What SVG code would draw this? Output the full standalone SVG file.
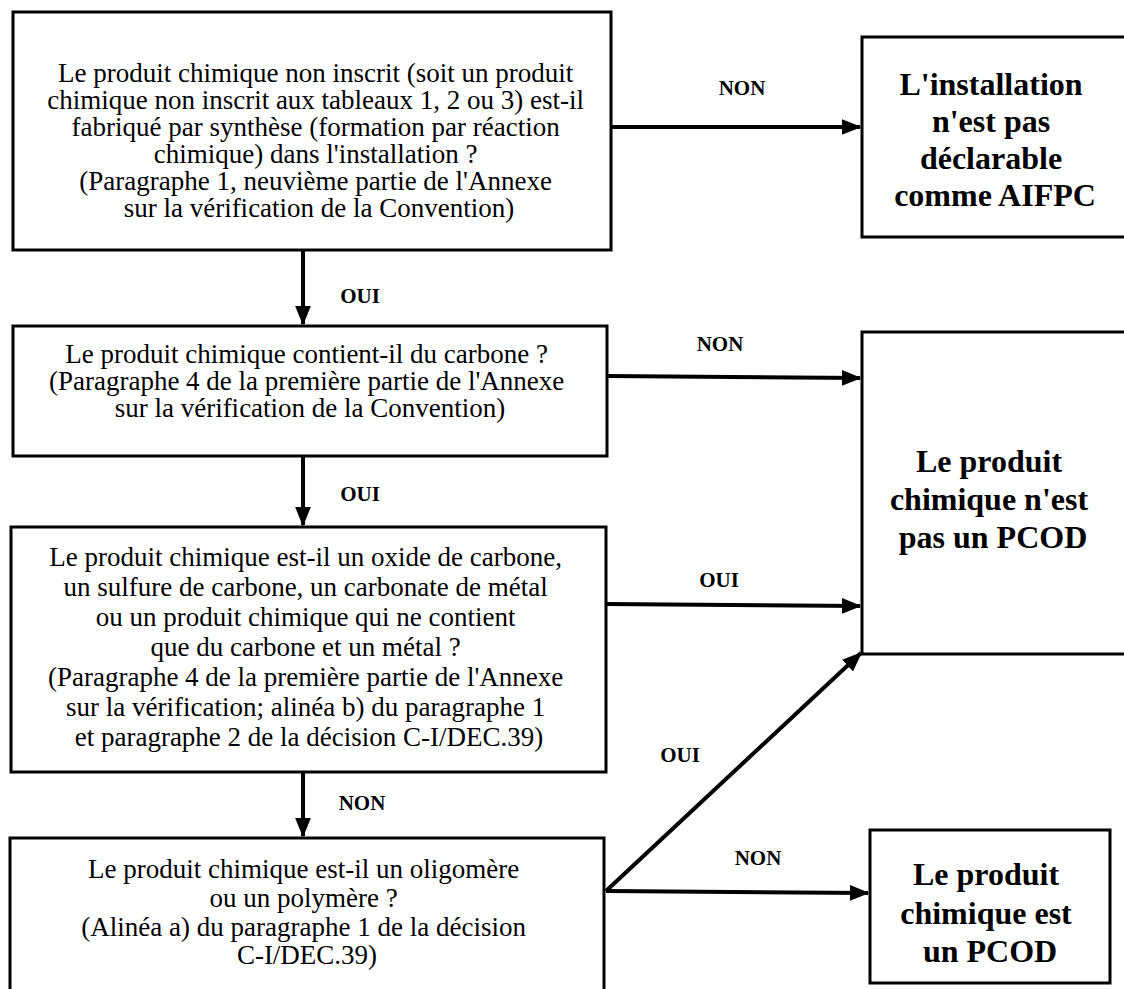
<svg xmlns="http://www.w3.org/2000/svg" width="1124" height="989" viewBox="0 0 1124 989">
  <style>
    .box { fill: #ffffff; stroke: #000000; stroke-width: 3; }
    .q { font-size: 27px; fill: #000; text-anchor: middle; }
    .res { font-size: 32px; font-weight: bold; fill: #000; text-anchor: middle; }
    .lbl { font-size: 21px; font-weight: bold; fill: #000; text-anchor: middle; }
    .edge { stroke: #000; stroke-width: 4; fill: none; marker-end: url(#head); }
  </style>
  <defs>
    <marker id="head" markerWidth="5" markerHeight="4" refX="4.6" refY="2" orient="auto" markerUnits="strokeWidth">
      <path d="M0,0 L5,2 L0,4 Z" fill="#000"/>
    </marker>
  </defs>
  <rect width="1124" height="989" fill="#ffffff"/>

  <g font-family="Liberation Serif, Times New Roman, serif">
  <!-- connectors and their yes/no labels -->
  <g id="connectors">
    <line class="edge" x1="611" y1="127" x2="860" y2="127"/>
    <line class="edge" x1="303" y1="250" x2="303" y2="324"/>
    <line class="edge" x1="607" y1="376" x2="860" y2="378"/>
    <line class="edge" x1="303" y1="456" x2="303" y2="525"/>
    <line class="edge" x1="606" y1="604" x2="860" y2="606"/>
    <line class="edge" x1="303" y1="772" x2="303" y2="836"/>
    <line class="edge" x1="606" y1="891" x2="861" y2="653"/>
    <line class="edge" x1="606" y1="891" x2="868" y2="893"/>
    <text class="lbl" x="742" y="95">NON</text>
    <text class="lbl" x="360" y="303">OUI</text>
    <text class="lbl" x="720" y="351">NON</text>
    <text class="lbl" x="360" y="501">OUI</text>
    <text class="lbl" x="719" y="587">OUI</text>
    <text class="lbl" x="362" y="810">NON</text>
    <text class="lbl" x="680" y="762">OUI</text>
    <text class="lbl" x="758" y="865">NON</text>
  </g>

  <g id="q-synthese">
    <rect class="box" x="13" y="12" width="598" height="238"/>
    <text class="q">
      <tspan x="319" y="82">Le produit chimique non inscrit (soit un produit</tspan>
      <tspan x="319" y="109">chimique non inscrit aux tableaux 1, 2 ou 3) est-il</tspan>
      <tspan x="319" y="136">fabriqué par synthèse (formation par réaction</tspan>
      <tspan x="319" y="163">chimique) dans l'installation ?</tspan>
      <tspan x="319" y="190">(Paragraphe 1, neuvième partie de l'Annexe</tspan>
      <tspan x="319" y="217">sur la vérification de la Convention)</tspan>
    </text>
  </g>

  <g id="r-non-declarable">
    <rect class="box" x="862" y="37" width="270" height="200"/>
    <text class="res">
      <tspan x="995" y="95">L'installation</tspan>
      <tspan x="995" y="132">n'est pas</tspan>
      <tspan x="995" y="169">déclarable</tspan>
      <tspan x="995" y="206">comme AIFPC</tspan>
    </text>
  </g>

  <g id="q-carbone">
    <rect class="box" x="13" y="326" width="594" height="130"/>
    <text class="q">
      <tspan x="310" y="363">Le produit chimique contient-il du carbone ?</tspan>
      <tspan x="310" y="390">(Paragraphe 4 de la première partie de l'Annexe</tspan>
      <tspan x="310" y="417">sur la vérification de la Convention)</tspan>
    </text>
  </g>

  <g id="r-pas-pcod">
    <rect class="box" x="862" y="332" width="270" height="322"/>
    <text class="res">
      <tspan x="993" y="472">Le produit</tspan>
      <tspan x="993" y="510">chimique n'est</tspan>
      <tspan x="993" y="548">pas un PCOD</tspan>
    </text>
  </g>

  <g id="q-oxide">
    <rect class="box" x="11" y="527" width="595" height="245"/>
    <text class="q">
      <tspan x="309" y="566">Le produit chimique est-il un oxide de carbone,</tspan>
      <tspan x="309" y="596">un sulfure de carbone, un carbonate de métal</tspan>
      <tspan x="309" y="626">ou un produit chimique qui ne contient</tspan>
      <tspan x="309" y="656">que du carbone et un métal ?</tspan>
      <tspan x="309" y="686">(Paragraphe 4 de la première partie de l'Annexe</tspan>
      <tspan x="309" y="716">sur la vérification; alinéa b) du paragraphe 1</tspan>
      <tspan x="309" y="746">et paragraphe 2 de la décision C-I/DEC.39)</tspan>
    </text>
  </g>

  <g id="q-polymere">
    <rect class="box" x="10" y="838" width="594" height="170"/>
    <text class="q">
      <tspan x="307" y="878">Le produit chimique est-il un oligomère</tspan>
      <tspan x="307" y="907">ou un polymère ?</tspan>
      <tspan x="307" y="936">(Alinéa a) du paragraphe 1 de la décision</tspan>
      <tspan x="307" y="964">C-I/DEC.39)</tspan>
    </text>
  </g>

  <g id="r-pcod">
    <rect class="box" x="870" y="830" width="240" height="153"/>
    <text class="res">
      <tspan x="990" y="885">Le produit</tspan>
      <tspan x="990" y="924">chimique est</tspan>
      <tspan x="990" y="962">un PCOD</tspan>
    </text>
  </g>
  </g>
</svg>
